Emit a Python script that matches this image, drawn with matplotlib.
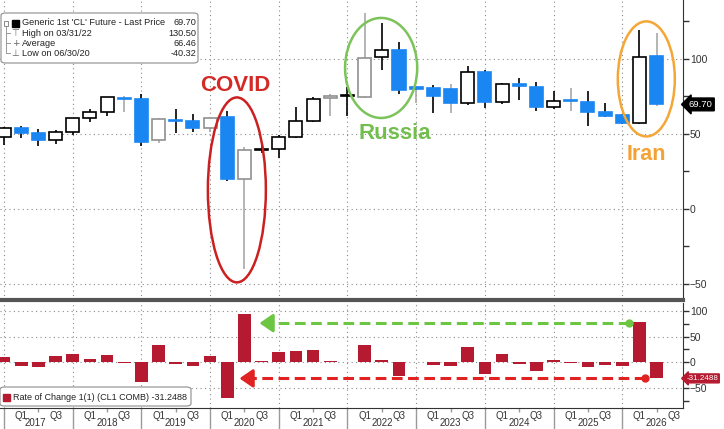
import numpy as np
import pandas as pd
import matplotlib
matplotlib.use('Agg')
import matplotlib.pyplot as plt
from matplotlib.patches import Ellipse, FancyBboxPatch, Rectangle
from matplotlib.lines import Line2D

plt.rcParams['font.family'] = ['Liberation Sans', 'DejaVu Sans']

# quarterly WTI front-month candles, Q4 2016 .. Q2 2026 (plotted at quarter end)
quarters = pd.period_range('2016Q4', '2026Q2', freq='Q')
opens  = [47.8, 54.2, 50.5, 45.8, 51.1, 60.4, 64.4, 74.0, 73.3, 45.8, 59.3, 58.9, 53.8,
          61.6, 19.8, 39.5, 39.8, 48.2, 58.9, 74.0, 75.0, 74.9, 101.1, 106.0, 80.6,
          80.4, 79.8, 70.5, 91.1, 71.5, 83.1, 81.1, 68.2, 72.3, 71.5, 64.9, 62.7,
          57.1, 102.0]
highs  = [54.5, 55.3, 53.5, 52.7, 60.6, 66.7, 74.6, 75.5, 76.7, 60.5, 66.4, 63.3, 61.0,
          65.6, 41.5, 43.8, 49.3, 68.2, 74.9, 76.7, 81.0, 130.5, 124.2, 111.5, 82.0,
          82.7, 83.3, 95.3, 92.7, 84.2, 87.1, 84.4, 78.7, 80.4, 78.7, 70.4, 63.5,
          119.3, 117.5]
lows   = [42.7, 47.1, 42.2, 43.3, 49.3, 58.0, 62.0, 64.7, 42.2, 44.2, 50.9, 51.1, 51.5,
          18.9, -40.3, 37.0, 33.8, 47.1, 57.8, 62.0, 61.7, 74.3, 92.7, 76.7, 70.5,
          64.2, 63.8, 69.3, 67.1, 70.0, 72.7, 65.5, 66.4, 65.5, 55.3, 61.5, 56.5,
          56.7, 68.7]
closes = [53.8, 50.5, 45.8, 51.3, 60.4, 64.9, 74.4, 73.3, 44.9, 59.8, 58.4, 54.2, 60.4,
          20.0, 39.3, 40.0, 48.2, 58.9, 73.1, 75.6, 75.3, 100.4, 106.0, 79.3, 80.2,
          75.3, 70.5, 91.1, 71.5, 83.1, 82.3, 68.2, 72.0, 71.7, 64.9, 62.0, 57.1,
          101.1, 69.7]
# quarterly rate of change, %
roc = [10.9, -6.5, -9.1, 12.2, 16.1, 7.0, 14.2, -1.0, -38.8, 33.6, -2.7, -7.8, 12.2,
       -68.7, 93.8, 1.9, 20.0, 21.9, 23.9, 2.5, 0.3, 33.6, 4.5, -26.6, 1.0,
       -5.8, -6.5, 29.1, -22.7, 16.1, -2.6, -16.9, 4.5, -0.4, -9.1, -5.2, -7.8,
       78.3, -31.25]
years = list(range(2017, 2027))
last_price = 69.70
last_roc = -31.2488

grey_idx = [7, 9, 12, 14, 19, 21, 24, 26, 33, 38]  # candles drawn with grey wicks

BLUE = '#1a86f2'
RED_BAR = '#b51a30'
GRID = dict(color='#8a8a8a', lw=0.8, ls=(0, (1, 3)))

x = np.array([p.year + p.quarter / 4 for p in quarters])

fig = plt.figure(figsize=(7.24, 4.29), dpi=100)
ax = fig.add_axes([0, 1 - 300 / 429, 683 / 724, 300 / 429])
ax2 = fig.add_axes([0, 1 - 408 / 429, 683 / 724, 105 / 429])

xlim = (2016.942, 2026.884)

# ---- candles
w = 0.19
for i in range(len(x)):
    o, h, l, c = opens[i], highs[i], lows[i], closes[i]
    wc = '#a8a8a8' if i in grey_idx else 'black'
    ax.vlines(x[i], l, h, color=wc, lw=1.2, zorder=2)
    if c < o:
        fc, ec = BLUE, BLUE
    else:
        fc, ec = 'white', ('#909090' if i in grey_idx else 'black')
    ax.add_patch(Rectangle((x[i] - w / 2, min(o, c)), w, max(abs(c - o), 0.8),
                           fc=fc, ec=ec, lw=1.2, zorder=3))

ax.set_xlim(*xlim)
ax.set_ylim(-60.7, 139.3)
for yy in [100, 50, 0, -50]:
    ax.axhline(yy, zorder=0, **GRID)
for yr in years:
    ax.axvline(yr, zorder=0, **GRID)

ax.yaxis.tick_right()
ax.set_yticks([100, 50, 0, -50])
ax.set_yticks([125, 75, 25, -25], minor=True)
ax.tick_params(axis='y', which='both', direction='out', length=4, width=1,
               colors='#333333', labelsize=7.5, pad=1)
ax.tick_params(axis='x', which='both', bottom=False, labelbottom=False)
for s in ['top', 'left']:
    ax.spines[s].set_visible(False)
ax.spines['right'].set_color('#333333')
ax.spines['bottom'].set_color('#555555')
ax.spines['bottom'].set_linewidth(3)

ax.text(1.008, last_price, f'{last_price:.2f}', transform=ax.get_yaxis_transform(),
        color='white', fontsize=6.8, va='center', ha='left',
        bbox=dict(boxstyle='larrow,pad=0.2', fc='black', ec='black'))

# ---- annotations
ax.add_patch(Ellipse((2020.39, 12.7), 0.844, 123.3, fill=False, ec='#cc2020', lw=1.8, zorder=4))
ax.text(2020.36, 82, 'COVID', color='#d42a27', fontsize=16, fontweight='bold',
        ha='center', va='center')
ax.add_patch(Ellipse((2022.49, 94), 1.05, 66.7, fill=False, ec='#7cc35a', lw=1.8, zorder=4))
ax.text(2022.69, 50, 'Russia', color='#72be4c', fontsize=16, fontweight='bold',
        ha='center', va='center')
ax.add_patch(Ellipse((2026.35, 86.7), 0.83, 76.7, fill=False, ec='#f4a636', lw=1.8, zorder=4))
ax.text(2026.345, 36, 'Iran', color='#f4a233', fontsize=15.5, fontweight='bold',
        ha='center', va='center')

# ---- rate of change panel
ax2.bar(x, roc, width=0.185, color=RED_BAR, zorder=3)
ax2.set_xlim(*xlim)
ax2.set_ylim(-88.7, 115.1)
for yy in [100, 50, 0, -50]:
    ax2.axhline(yy, zorder=0, **GRID)
for yr in years:
    ax2.axvline(yr, zorder=0, **GRID)
ax2.yaxis.tick_right()
ax2.set_yticks([100, 50, 0, -50])
ax2.set_yticks([75, 25, -25, -75], minor=True)
ax2.tick_params(axis='y', which='both', direction='out', length=4, width=1,
                colors='#333333', labelsize=7.5, pad=1)
ax2.set_xticks(years)
ax2.set_xticks([yr + 0.5 for yr in years], minor=True)
ax2.tick_params(axis='x', which='major', direction='out', length=16, width=1,
                color='#9a9a9a', labelbottom=False)
ax2.tick_params(axis='x', which='minor', direction='out', length=3, width=1,
                color='#9a9a9a')
for s in ['top', 'left']:
    ax2.spines[s].set_visible(False)
ax2.spines['right'].set_color('#333333')
ax2.spines['bottom'].set_color('#333333')

for yr in years:
    for q, lab in [(0.25, 'Q1'), (0.75, 'Q3')]:
        ax2.text(yr + q, -0.072, lab, transform=ax2.get_xaxis_transform(),
                 fontsize=7, color='#333333', ha='center', va='center')
    ax2.text(yr + (0.45 if yr == 2017 else 0.5), -0.172, str(yr),
             transform=ax2.get_xaxis_transform(), fontsize=7, color='#333333',
             ha='center', va='baseline')

ax2.text(1.005, last_roc, f'{last_roc:.4f}', transform=ax2.get_yaxis_transform(),
         color='white', fontsize=5.8, va='center', ha='left',
         bbox=dict(boxstyle='larrow,pad=0.12', fc=RED_BAR, ec=RED_BAR))

# dashed arrows comparing Iran spike with COVID moves
ax2.plot([2026.093, 2020.85], [76, 76], color='#6cc644', lw=2.2, ls=(0, (3.5, 1.8)), zorder=4)
ax2.plot([2026.093], [76], 'o', color='#6cc644', ms=5, zorder=5)
ax2.annotate('', xy=(2020.678, 76), xytext=(2020.90, 76),
             arrowprops=dict(arrowstyle='-|>,head_length=0.8,head_width=0.55',
                             color='#6cc644', lw=2.2), zorder=5)
ax2.plot([2026.335, 2020.56], [last_roc, last_roc], color='#e02222', lw=2.2,
         ls=(0, (3.5, 1.8)), zorder=4)
ax2.plot([2026.335], [last_roc], 'o', color='#e02222', ms=5, zorder=5)
ax2.annotate('', xy=(2020.387, last_roc), xytext=(2020.61, last_roc),
             arrowprops=dict(arrowstyle='-|>,head_length=0.8,head_width=0.55',
                             color='#e02222', lw=2.2), zorder=5)


# ---- legends (pixel positions)
def fx(px):
    return px / 724


def fy(py):
    return 1 - py / 429


fig.patches.append(FancyBboxPatch((fx(1), fy(63)), fx(197), 50 / 429,
                                  boxstyle='round,pad=0,rounding_size=0.006',
                                  transform=fig.transFigure, fc='white', ec='#8c8c8c',
                                  lw=0.8, zorder=10))
rows = [("Generic 1st 'CL' Future - Last Price", '69.70'),
        ('High on 03/31/22', '130.50'),
        ('Average', '66.46'),
        ('Low on 06/30/20', '-40.32')]
row_y = [22.7, 33.3, 43.3, 53.3]
for (lab, val), yy in zip(rows, row_y):
    fig.text(fx(22), fy(yy), lab, fontsize=6.6, color='#222222',
             va='center', ha='left', zorder=11)
    fig.text(fx(196), fy(yy), val, fontsize=6.6, color='#222222',
             va='center', ha='right', zorder=11)
fig.patches.append(Rectangle((fx(12), fy(26.5)), fx(7), 7 / 429, transform=fig.transFigure,
                             fc='black', ec='black', zorder=11))
for sym, yy in zip(['\u22a4', '+', '\u22a5'], row_y[1:]):
    fig.text(fx(15.5), fy(yy), sym, fontsize=6.5, color='#666666', family='DejaVu Sans',
             ha='center', va='center', zorder=11)
fig.lines.append(Line2D([fx(5.5), fx(5.5)], [fy(25), fy(53.3)], transform=fig.transFigure,
                        color='#999999', lw=0.7, zorder=11))
for yy in row_y[1:]:
    fig.lines.append(Line2D([fx(5.5), fx(10)], [fy(yy), fy(yy)], transform=fig.transFigure,
                            color='#999999', lw=0.7, zorder=11))
fig.patches.append(Rectangle((fx(3.5), fy(25.5)), fx(4.5), 4.5 / 429, transform=fig.transFigure,
                             fc='white', ec='#777777', lw=0.6, zorder=11))

fig.patches.append(FancyBboxPatch((fx(0), fy(406)), fx(191), 19 / 429,
                                  boxstyle='round,pad=0,rounding_size=0.006',
                                  transform=fig.transFigure, fc='white', ec='#8c8c8c',
                                  lw=0.8, zorder=10))
fig.patches.append(Rectangle((fx(3), fy(401)), fx(7), 7 / 429, transform=fig.transFigure,
                             fc=RED_BAR, ec=RED_BAR, zorder=11))
fig.text(fx(13), fy(397.5), f'Rate of Change 1(1) (CL1 COMB) {last_roc:.4f}', fontsize=6.5,
         color='#222222', va='center', ha='left', zorder=11)

fig.savefig('out.png', dpi=100)
